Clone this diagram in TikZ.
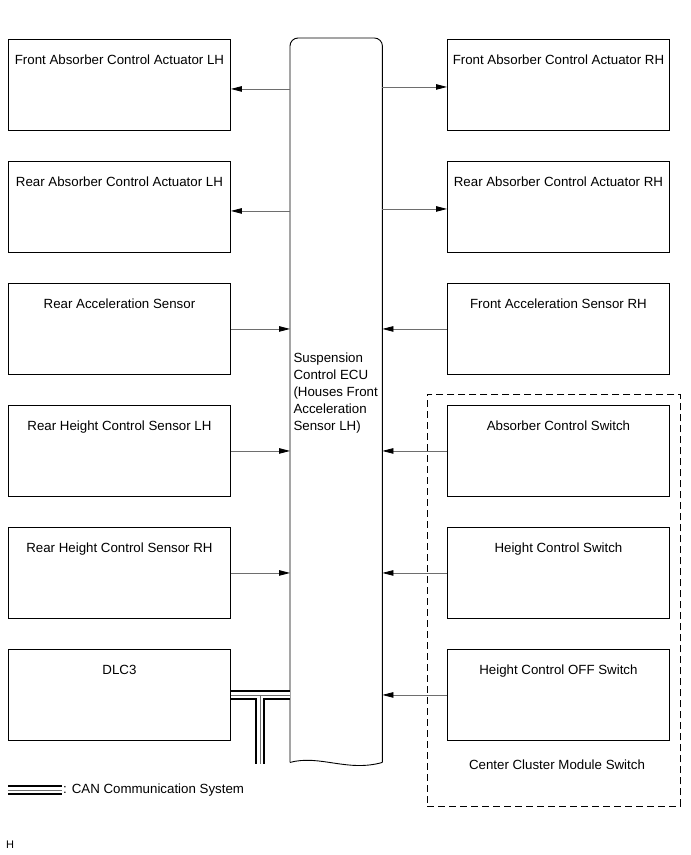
\documentclass[tikz,border=0pt]{standalone}
\usepackage{fontspec}
\setmainfont{Liberation Sans}
\usetikzlibrary{arrows.meta,positioning,calc}
\definecolor{sigline}{RGB}{110,110,110}
\definecolor{canmid}{RGB}{110,110,110}

\begin{document}
\begin{tikzpicture}[x=1pt,y=-1pt,font=\fontsize{13.3}{17}\selectfont,
    unitbox/.style={draw,line width=0.9pt,minimum width=222pt,minimum height=91pt,inner sep=0pt,anchor=north west},
    sig/.style={draw=sigline,line width=0.8pt,-{Triangle[length=11pt,width=5.5pt,black]}},
    boxlbl/.style={anchor=north,yshift=-12.5pt}]
  \useasboundingbox (0,0) rectangle (691,855);
  \foreach \k/\y/\lbl in {
      1/39/Front Absorber Control Actuator LH,2/161/Rear Absorber Control Actuator LH,
      3/283/Rear Acceleration Sensor,4/405/Rear Height Control Sensor LH,
      5/527/Rear Height Control Sensor RH,6/649/DLC3}{
    \node[unitbox,label={[boxlbl]north:\lbl}] (l\k) at (8,\y) {};
  }
  \foreach \k/\y/\lbl in {
      1/39/Front Absorber Control Actuator RH,2/161/Rear Absorber Control Actuator RH,
      3/283/Front Acceleration Sensor RH,4/405/Absorber Control Switch,
      5/527/Height Control Switch,6/649/Height Control OFF Switch}{
    \node[unitbox,label={[boxlbl]north:\lbl}] (r\k) at (447,\y) {};
  }
  \node[minimum width=92pt,minimum height=724pt,inner sep=0pt,anchor=north west] (ecu) at (290,38) {};
  \draw[line width=0.9pt,rounded corners=8pt] (ecu.south west) -- (ecu.north west) -- (ecu.north east) -- (ecu.south east);
  \draw[line width=0.9pt] (ecu.south west) .. controls +(30,-8) and +(-35,10) .. (ecu.south east);
  \node[anchor=north west,align=left] (ecutxt) at (290,349) {Suspension\\Control ECU\\(Houses Front\\Acceleration\\Sensor LH)};
  \foreach \k in {1,2}{
    \draw[sig] ($(ecu.west |- l\k.east)+(0,4)$) -- ($(l\k.east)+(0,4)$);
    \draw[sig] ($(ecu.east |- r\k.west)+(0,2)$) -- ($(r\k.west)+(0,2)$);
  }
  \foreach \k in {3,4,5}
    \draw[sig] (l\k.east) -- (l\k.east -| ecu.west);
  \foreach \k in {3,4,5,6}
    \draw[sig] (r\k.west) -- (r\k.west -| ecu.east);
  \node[draw,dashed,dash pattern=on 7pt off 4pt,line width=0.8pt,minimum width=253pt,minimum height=412pt,anchor=north west] (cluster) at (427,394) {};
  \node (clusterlbl) at (557,765) {Center Cluster Module Switch};
  \coordinate (canend) at (260,764);
  \coordinate (legA) at (8,790);
  \coordinate (legB) at (62,790);
  \foreach \w/\c in {10/black,6.5/white,0.8/canmid}{
    \draw[line width=\w pt,\c] (l6.east) -- (l6.east -| ecu.west) (l6.east -| canend) -- (canend);
    \draw[line width=\w pt,\c] (legA) -- (legB);
  }
  \node[anchor=west,inner sep=1pt] (canlbl) at (legB) {: CAN Communication System};
  \node[anchor=west,inner sep=0pt,font=\fontsize{11}{13}\selectfont] (hmark) at (6,845) {H};
\end{tikzpicture}
\end{document}
